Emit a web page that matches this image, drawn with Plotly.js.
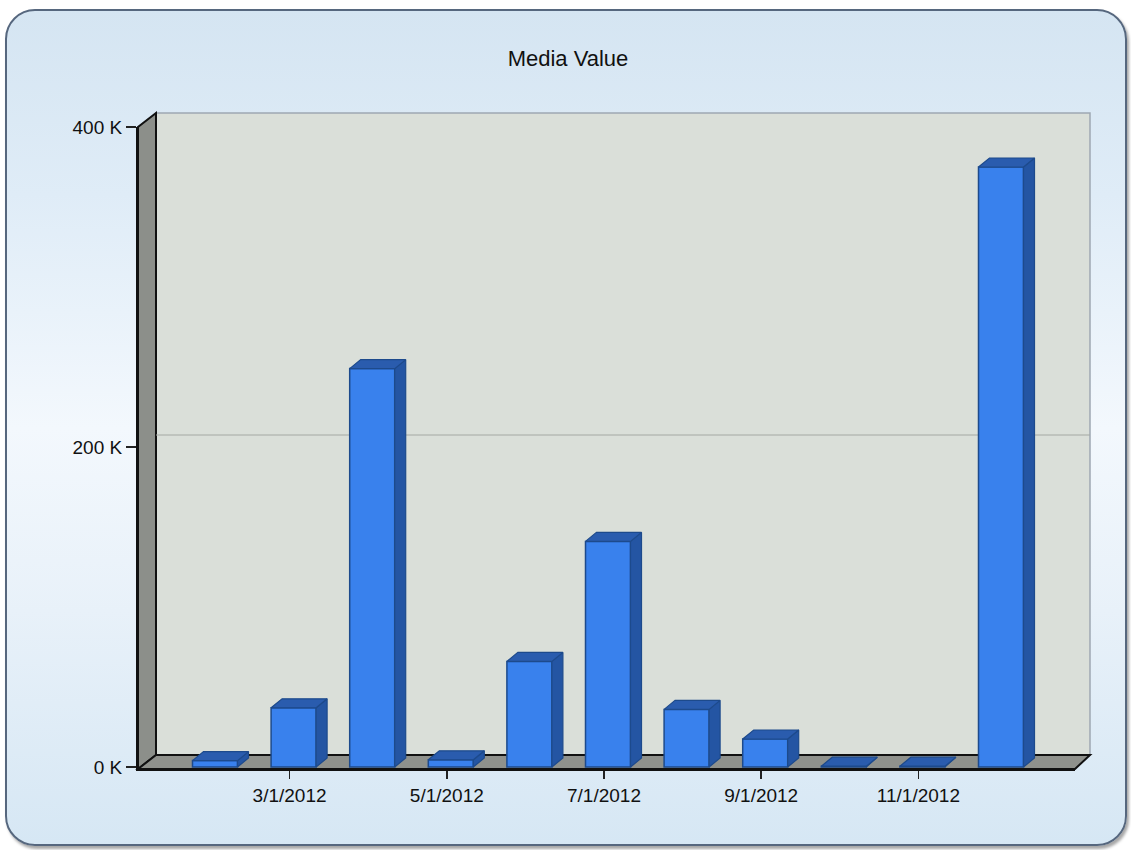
<!DOCTYPE html>
<html><head><meta charset="utf-8">
<script src="https://cdn.plot.ly/plotly-3.0.1.min.js"></script>
<style>
html,body{margin:0;padding:0;background:#ffffff;width:1131px;height:850px;overflow:hidden}
#panel{position:absolute;left:5px;top:9px;width:1122px;height:837px;box-sizing:border-box;border:2px solid #56677E;border-radius:30px;
background:linear-gradient(to bottom,#D5E5F2 0%,#DFECF7 22%,#F3F8FD 50%,#E8F1F9 72%,#D6E7F4 100%);
box-shadow:2px 3px 3px rgba(0,0,0,0.35)}
#chart{position:absolute;left:0;top:0;width:1131px;height:850px}
</style></head>
<body><div id="panel"></div><div id="chart"></div>
<script>
// ---- data ----
const months = ['2/1/2012','3/1/2012','4/1/2012','5/1/2012','6/1/2012','7/1/2012','8/1/2012','9/1/2012','10/1/2012','11/1/2012','12/1/2012'];
const mediaValue = [4000, 37000, 249000, 4500, 66000, 141000, 36000, 17500, 500, 500, 375000];
const xTickLabels = ['3/1/2012','5/1/2012','7/1/2012','9/1/2012','11/1/2012'];
const yTickValues = [0, 200000, 400000];
const yTickLabels = ['0 K','200 K','400 K'];

// ---- geometry (pixels) ----
const L = 138, R = 1075, T = 127, B = 769;
const W = R - L, H = B - T;
const pitch = 78.6, firstTick = 211;
const xRange = [(L - firstTick) / pitch, (R - firstTick) / pitch];
const yRange = [-1250, 400000];
const pxPerY = H / (yRange[1] - yRange[0]);
const barW = 45 / pitch, hw = barW / 2;
const shift = 4 / pitch;
const dx = 11 / pitch, dy = 9 / pxPerY;

const xIdx = months.map((m, i) => i);
const tickVals = xTickLabels.map(l => months.indexOf(l));

const sideX = [], sideY = [], topX = [], topY = [];
mediaValue.forEach((v, i) => {
  const c = i + shift;
  sideX.push(c+hw, c+hw+dx, c+hw+dx, c+hw, c+hw, null);
  sideY.push(0, dy, v+dy, v, 0, null);
  topX.push(c-hw, c+hw, c+hw+dx, c-hw+dx, c-hw, null);
  topY.push(v, v, v+dy, v+dy, v, null);
});

const front = '#3981ED', side = '#2455A3', topc = '#2A5CAE', edge = '#1D4A8C';

const traces = [
  {type:'bar', x:xIdx, y:mediaValue, width:barW, offset:-hw + shift,
   marker:{color:front, line:{color:edge, width:1.5}}, hoverinfo:'skip', showlegend:false},
  {type:'scatter', mode:'lines', x:sideX, y:sideY, fill:'toself', fillcolor:side,
   line:{color:edge, width:1.2}, hoverinfo:'skip', showlegend:false},
  {type:'scatter', mode:'lines', x:topX, y:topY, fill:'toself', fillcolor:topc,
   line:{color:edge, width:1.2}, hoverinfo:'skip', showlegend:false}
];

// wall shapes in paper coordinates computed from pixel corners
const P = (px, py) => ((px - L) / W).toFixed(5) + ',' + ((B - py) / H).toFixed(5);
const path = pts => 'M ' + pts.map(p => P(p[0], p[1])).join(' L ') + ' Z';
const bx = 156, by0 = 755, by1 = 113, bxr = 1090;
const gridY = by0 - 200000 * pxPerY;
const shapes = [
  {type:'path', xref:'paper', yref:'paper', layer:'below', path:path([[bx,by1],[bxr,by1],[bxr,by0],[bx,by0]]),
   fillcolor:'#DADFD9', line:{color:'#9EA8B2', width:1.5}},
  {type:'path', xref:'paper', yref:'paper', layer:'below', path:path([[L,B],[L,T],[bx,by1],[bx,by0]]),
   fillcolor:'#8C8F8A', line:{color:'#111', width:2}},
  {type:'path', xref:'paper', yref:'paper', layer:'below', path:path([[L,B],[bx,by0],[bxr,by0],[R,B]]),
   fillcolor:'#8F918C', line:{color:'#111', width:2}},
  {type:'line', xref:'paper', yref:'paper', layer:'below',
   x0:(bx-L)/W, x1:(bxr-L)/W, y0:(B-gridY)/H, y1:(B-gridY)/H, line:{color:'#A4A8A3', width:1}}
];

const font = {family:'"Liberation Sans", Arial, sans-serif', size:19, color:'#111'};
const layout = {
  width:1131, height:850,
  paper_bgcolor:'rgba(0,0,0,0)', plot_bgcolor:'rgba(0,0,0,0)',
  margin:{l:L, r:1131-R, t:T, b:850-B, pad:0},
  font:font,
  title:{text:'Media Value', font:{family:'"Liberation Sans", Arial, sans-serif', size:22, color:'#111'},
         x:568/1131, xref:'container', xanchor:'center', y:1-58/850, yref:'container', yanchor:'middle'},
  xaxis:{range:xRange, showgrid:false, zeroline:false, showline:true, linecolor:'#111', linewidth:2,
         tickmode:'array', tickvals:tickVals, ticktext:xTickLabels, ticks:'outside', ticklen:8, tickwidth:1.5,
         tickcolor:'#222', tickfont:font, fixedrange:true},
  yaxis:{range:yRange, showgrid:false, zeroline:false, showline:true, linecolor:'#111', linewidth:2,
         tickmode:'array', tickvals:yTickValues, ticktext:yTickLabels, ticks:'outside', ticklen:10, tickwidth:1.5,
         tickcolor:'#222', tickfont:font, fixedrange:true},
  shapes:shapes,
  showlegend:false
};
Plotly.newPlot('chart', traces, layout, {staticPlot:true, displayModeBar:false});
</script>
</body></html>
